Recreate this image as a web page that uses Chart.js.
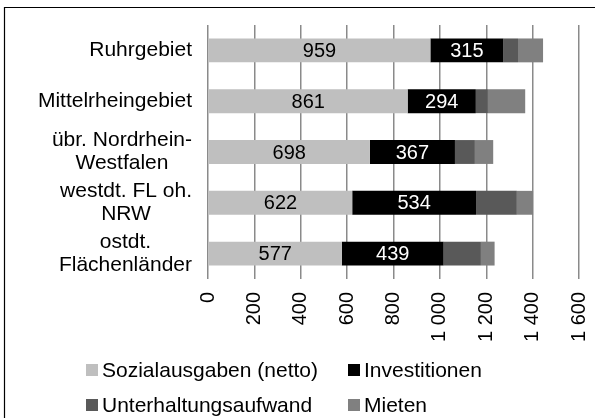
<!DOCTYPE html>
<html>
<head>
<meta charset="utf-8">
<script src="https://cdn.jsdelivr.net/npm/chart.js@4/dist/chart.umd.min.js"></script>
<style>
html,body{margin:0;padding:0;background:#fff;overflow:hidden;width:595px;height:418px;}
#wrap{width:595px;height:418px;position:relative;overflow:hidden;}
canvas{display:block;}
</style>
</head>
<body>
<div id="wrap"><canvas id="c" width="595" height="418" style="width:595px;height:418px"></canvas></div>
<script>
const categories = [
  ["Ruhrgebiet"],
  ["Mittelrheingebiet"],
  ["übr. Nordrhein-", "Westfalen"],
  ["westdt. FL oh.", "NRW"],
  ["ostdt.", "Flächenländer"]
];
const sozialausgaben = [959, 861, 698, 622, 577];
const investitionen = [315, 294, 367, 534, 439];
const unterhaltungsaufwand = [63, 52, 86, 176, 161];
const mieten = [108, 161, 79, 70, 59];
const seriesNames = ["Sozialausgaben (netto)", "Investitionen", "Unterhaltungsaufwand", "Mieten"];
const seriesColors = ["#bfbfbf", "#000000", "#595959", "#808080"];
const xTickValues = [0, 200, 400, 600, 800, 1000, 1200, 1400, 1600];

const FONT = "'Liberation Sans', Arial, sans-serif";

function fmt(v){
  return String(v).replace(/\B(?=(\d{3})+(?!\d))/g, " ");
}

const framePlugin = {
  id: 'frame',
  beforeDraw(chart){
    const ctx = chart.ctx;
    ctx.save();
    ctx.fillStyle = '#fff';
    ctx.fillRect(0,0,chart.width,chart.height);
    ctx.strokeStyle = '#000';
    ctx.lineWidth = 1.2;
    ctx.beginPath();
    ctx.moveTo(4.5, chart.height);
    ctx.lineTo(4.5, 7.5);
    ctx.lineTo(chart.width, 7.5);
    ctx.stroke();
    ctx.restore();
  }
};

const yLabelPlugin = {
  id: 'ylabels',
  afterDraw(chart){
    const ctx = chart.ctx;
    const ys = chart.scales.y;
    ctx.save();
    ctx.font = "21px " + FONT;
    ctx.fillStyle = '#000';
    ctx.textAlign = 'center';
    ctx.textBaseline = 'middle';
    const rightEdge = chart.chartArea.left - 16;
    const lh = 23;
    chart.data.labels.forEach((lab, i) => {
      const lines = Array.isArray(lab) ? lab : [lab];
      const w = Math.max(...lines.map(l => ctx.measureText(l).width));
      const cx = rightEdge - w/2;
      const cy = ys.getPixelForValue(i);
      const y0 = cy - (lines.length - 1) * lh / 2;
      lines.forEach((l, k) => ctx.fillText(l, cx, y0 + k*lh));
    });
    ctx.restore();
  }
};

const valueLabelPlugin = {
  id: 'valuelabels',
  afterDatasetsDraw(chart){
    const ctx = chart.ctx;
    ctx.save();
    ctx.font = "20px " + FONT;
    ctx.textAlign = 'center';
    ctx.textBaseline = 'middle';
    [0,1].forEach(di => {
      const meta = chart.getDatasetMeta(di);
      meta.data.forEach((bar, i) => {
        const p = bar.getProps(['x','y','base'], true);
        ctx.fillStyle = di === 1 ? '#fff' : '#000';
        ctx.fillText(fmt(chart.data.datasets[di].data[i]), (p.x + p.base)/2, p.y + 1);
      });
    });
    ctx.restore();
  }
};

const legendPlugin = {
  id: 'customLegend',
  afterDraw(chart){
    const ctx = chart.ctx;
    ctx.save();
    ctx.font = "21px " + FONT;
    ctx.textBaseline = 'middle';
    ctx.textAlign = 'left';
    const cols = [86, 348];
    const rows = [370, 405];
    chart.data.datasets.forEach((ds, i) => {
      const x = cols[i % 2], y = rows[Math.floor(i/2)];
      ctx.fillStyle = ds.backgroundColor;
      ctx.fillRect(x, y - 6, 12, 12);
      ctx.fillStyle = '#000';
      ctx.fillText(ds.label, x + 16, y + 1);
    });
    ctx.restore();
  }
};

const datasets = [sozialausgaben, investitionen, unterhaltungsaufwand, mieten].map((d, i) => ({
  label: seriesNames[i],
  data: d,
  backgroundColor: seriesColors[i],
  borderWidth: 0,
  barPercentage: 0.47,
  categoryPercentage: 1.0
}));

new Chart(document.getElementById('c'), {
  type: 'bar',
  data: { labels: categories, datasets },
  options: {
    indexAxis: 'y',
    responsive: false,
    maintainAspectRatio: false,
    animation: false,
    devicePixelRatio: 1,
    layout: { padding: { top: 25, right: 16, left: 0, bottom: 0 } },
    plugins: { legend: { display: false }, tooltip: { enabled: false } },
    scales: {
      x: {
        stacked: true,
        min: 0, max: 1600,
        afterBuildTicks(scale){ scale.ticks = xTickValues.map(v => ({value: v})); },
        afterFit(scale){ scale.height = 418 - 279; scale.paddingRight = 0; scale.paddingLeft = 0; },
        grid: { color: '#8a8a8a', lineWidth: 1.5, drawTicks: false },
        border: { display: false },
        ticks: {
          autoSkip: false,
          minRotation: 90, maxRotation: 90,
          padding: 13,
          color: '#000',
          font: { family: FONT, size: 20 },
          callback: v => fmt(v)
        }
      },
      y: {
        stacked: true,
        afterFit(scale){ scale.width = 208; },
        grid: { display: false },
        border: { display: false },
        ticks: { display: false }
      }
    }
  },
  plugins: [framePlugin, yLabelPlugin, valueLabelPlugin, legendPlugin]
});
</script>
</body>
</html>
